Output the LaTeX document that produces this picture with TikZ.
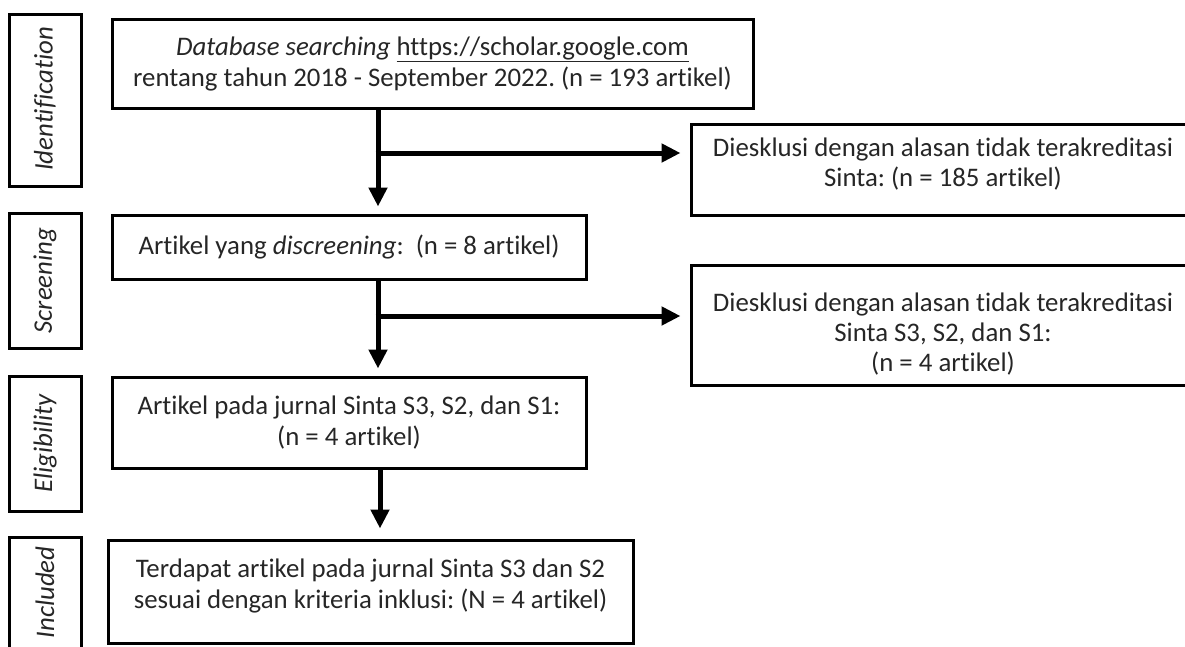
\documentclass[tikz,border=0pt]{standalone}
\usepackage{fontspec}
\setmainfont{Carlito}[Ligatures={NoCommon}]
\frenchspacing
\usetikzlibrary{arrows.meta}
\tikzset{
  box/.style={draw=black, line width=3pt, rectangle, inner sep=0pt, align=center,
    font=\fontsize{26.8}{31}\selectfont, text=black!85},
  frame/.style={draw=black, line width=3pt, rectangle, inner sep=0pt},
  boxtext/.style={inner sep=0pt, align=center, font=\fontsize{26.8}{30}\selectfont, text=black!85},
  side/.style={draw=black, line width=3pt, rectangle, inner sep=0pt},
  sidetext/.style={rotate=90, font=\fontsize{26.8}{30}\selectfont\itshape, text=black!85},
  flow/.style={line width=5pt, -{Triangle[length=19pt,width=18pt]}, shorten >=7pt},
}
\begin{document}
\begin{tikzpicture}[x=1pt,y=-1pt]
\useasboundingbox (0,0) rectangle (1185,646);
\clip (0,0) rectangle (1185,646);
% side labels
\node[side, minimum width=72pt, minimum height=172pt] (s1) at (45,100) {};
\node[sidetext] (t1) at (45,99) {Identification};
\node[side, minimum width=72pt, minimum height=135pt] (s2) at (45,280.5) {};
\node[sidetext] (t2) at (45,280.5) {Screening};
\node[side, minimum width=72pt, minimum height=135pt] (s3) at (45,443.5) {};
\node[sidetext] (t3) at (45,443.5) {Eligibility};
\node[side, minimum width=72pt, minimum height=111pt] (s4) at (45,592.5) {};
\node[sidetext] (t4) at (45,592.5) {Included};
% main boxes
\node[box, minimum width=641pt, minimum height=89pt] (b1) at (432.5,63.5)
  {\textit{Database searching} \underline{https://scholar.google.com}\\rentang tahun 2018 - September 2022. (n = 193 artikel)};
\node[box, minimum width=474pt, minimum height=64pt] (b2) at (349,247)
  {Artikel yang \textit{discreening}:~ (n = 8 artikel)};
\node[box, minimum width=474pt, minimum height=91pt] (b3) at (349,422.5)
  {Artikel pada jurnal Sinta S3, S2, dan S1:\\(n = 4 artikel)};
\node[box, minimum width=525pt, minimum height=103pt, text depth=16pt] (b4) at (370.5,591.5)
  {Terdapat artikel pada jurnal Sinta S3 dan S2\\sesuai dengan kriteria inklusi: (N = 4 artikel)};
% exclusion boxes
\node[frame, minimum width=504pt, minimum height=91pt] (e1) at (943,169.5) {};
\node[boxtext] (e1t) at (943,164.5)
  {Diesklusi dengan alasan tidak terakreditasi\\Sinta: (n = 185 artikel)};
\node[frame, minimum width=504pt, minimum height=120pt] (e2) at (943,325) {};
\node[boxtext] (e2t) at (943,334)
  {Diesklusi dengan alasan tidak terakreditasi\\Sinta S3, S2, dan S1:\\(n = 4 artikel)};
% connectors
\coordinate (j1) at (378,153);
\coordinate (j2) at (378,316);
\draw[flow] (b1.south -| j1) -- (b2.north -| j1);
\draw[flow, shorten >=9pt] ([xshift=-2.5pt]j1) -- (e1.west |- j1);
\draw[flow] (b2.south -| j2) -- (b3.north -| j2);
\draw[flow, shorten >=9pt] ([xshift=-2.5pt]j2) -- (e2.west |- j2);
\coordinate (j3) at (380,470);
\draw[flow, shorten >=10pt] (b3.south -| j3) -- (b4.north -| j3);
\end{tikzpicture}
\end{document}
